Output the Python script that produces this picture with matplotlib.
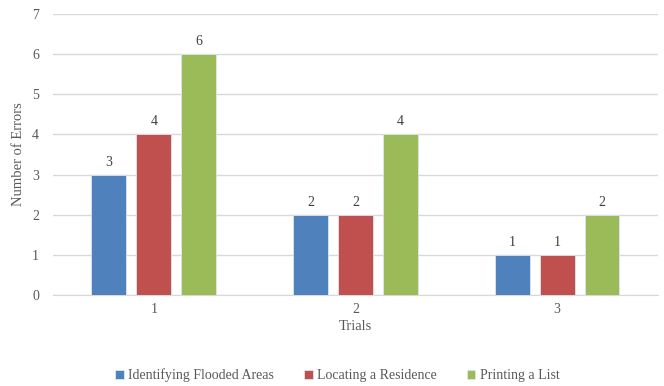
import matplotlib.pyplot as plt
import numpy as np

plt.rcParams['font.family'] = ['Liberation Serif', 'DejaVu Serif']
plt.rcParams['font.size'] = 10

trials = ["1", "2", "3"]
series = ["Identifying Flooded Areas", "Locating a Residence", "Printing a List"]
flooded = [3, 2, 1]
residence = [4, 2, 1]
printing = [6, 4, 2]
colors = ["#4F81BD", "#C0504D", "#9BBB59"]
txt = "#595959"

fig = plt.figure(figsize=(6.64, 3.86), dpi=100)
ax = fig.add_axes([0.0798, 0.2358, 0.911, 0.728])

x = np.arange(1, len(trials) + 1)
w = 0.173
step = 0.223
for i, (vals, name) in enumerate(zip([flooded, residence, printing], series)):
    pos = x + (i - 1) * step
    bars = ax.bar(pos, vals, width=w, color=colors[i], edgecolor="#DCE6F2",
                  linewidth=0.6, label=name, zorder=3)
    for b, v in zip(bars, vals):
        ax.text(b.get_x() + b.get_width() / 2, v + 0.15, str(v), ha="center",
                va="bottom", color="#404040", fontsize=10)

ax.set_xlim(0.5, 3.5)
ax.set_ylim(0, 7)
ax.set_yticks(range(0, 8))
ax.set_xticks(x)
ax.set_xticklabels(trials)
ax.yaxis.grid(True, color="#D9D9D9", linewidth=1, zorder=0)
for s in ["top", "right", "left"]:
    ax.spines[s].set_visible(False)
ax.spines["bottom"].set_color("#D9D9D9")
ax.tick_params(axis="both", length=0, colors=txt, labelsize=10)
ax.tick_params(axis="y", pad=10)
ax.tick_params(axis="x", pad=6)
ax.set_xlabel("Trials", color=txt, fontsize=10.5, labelpad=3)
ax.set_ylabel("Number of Errors", color=txt, fontsize=10.5, labelpad=5)

leg = fig.legend(loc="center", bbox_to_anchor=(0.508, 0.028), ncol=3, frameon=False,
                 handlelength=0.6, handleheight=0.6, handletextpad=0.3,
                 columnspacing=2.2, fontsize=10)
for t in leg.get_texts():
    t.set_color(txt)

fig.savefig("out.png", dpi=100)
